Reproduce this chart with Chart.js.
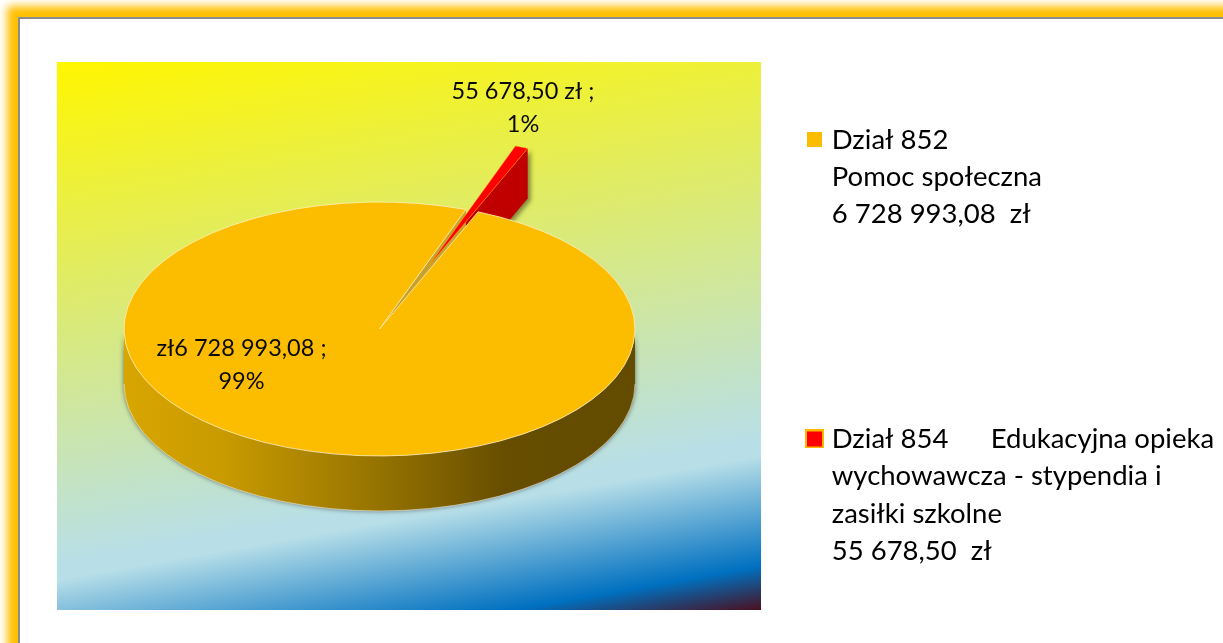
<!DOCTYPE html>
<html><head><meta charset="utf-8">
<style>
html,body{margin:0;padding:0;width:1223px;height:643px;overflow:hidden;background:#fff}
#frame{position:absolute;left:18px;top:17px;width:1400px;height:900px;border:2px solid #8c8c8c;background:#fff;box-shadow:0 0 8px 11px #ffc000;border-radius:1px}
#panel{position:absolute;left:57px;top:62px;width:704px;height:548px;background:linear-gradient(170deg,#fff600 0%,#b8dfe8 75%,#b8dfe8 77%,#0070c0 93.5%,#4a0f1e 100%)}
canvas{position:absolute;left:0;top:0}
</style>
<script src="https://cdn.jsdelivr.net/npm/chart.js@4"></script>
</head><body>
<div id="frame"></div><div id="panel"></div>
<canvas id="c" width="1223" height="643"></canvas>
<script>
const categories = ['Dział 852 Pomoc społeczna', 'Dział 854 Edukacyjna opieka wychowawcza - stypendia i zasiłki szkolne'];
const values = [6728993.08, 55678.50];
const colors = ['#fcbd00', '#ff0000'];
const legendLines = [
  ['Dział 852', 'Pomoc społeczna', '6 728 993,08  zł'],
  ['Dział 854      Edukacyjna opieka', 'wychowawcza - stypendia i', 'zasiłki szkolne', '55 678,50  zł']
];
const dataLabels = [['zł6 728 993,08 ;', '99%'], ['55 678,50 zł ;', '1%']];

const FONT = 'Lato, Carlito, sans-serif';
const view = {cx: 379.5, cy: 329, sy: 0.497, depth: 55, sliceDepth: 50, pull: 137};
const labelAt = [{x: 241.5, y: 348}, {x: 523, y: 91}];

function legendSwatch(fill, edge, inner, border){
  const c = document.createElement('canvas');
  c.width = c.height = inner + 2 * border;
  const x = c.getContext('2d');
  x.fillStyle = edge; x.fillRect(0, 0, c.width, c.height);
  x.fillStyle = fill; x.fillRect(border, border, inner, inner);
  return c;
}
const swatches = [legendSwatch(colors[0], colors[0], 15, 0), legendSwatch(colors[1], '#ffb800', 15, 2)];

function applyView(chart, el){
  const ctx = chart.ctx;
  ctx.translate(view.cx, view.cy);
  ctx.scale(1, view.sy);
  ctx.translate(-el.x, -el.y);
}
const pie3d = {
  id: 'pie3d',
  afterLayout(chart){
    const lg = chart.legend, w = lg.width, p = chart.options.plugins.legend.labels.padding;
    lg.left = 811 - p; lg.right = lg.left + w; lg.top = 126 - p; lg.bottom = lg.top + lg.height;
  },
  afterDatasetsUpdate(chart){
    // pull the small slice out of the pie along its own middle direction
    const [big, small] = chart.getDatasetMeta(0).data;
    const mid = (small.startAngle + small.endAngle) / 2;
    small.x = big.x + Math.cos(mid) * view.pull;
    small.y = big.y + Math.sin(mid) * view.pull;
  },
  beforeDatasetsDraw(chart){
    const [big, small] = chart.getDatasetMeta(0).data;
    const d = view.depth / view.sy, ds = view.sliceDepth / view.sy;
    const ctx = chart.ctx;
    ctx.save();
    applyView(chart, big);
    const {x, y, outerRadius: r} = big;
    // rim of the large slice
    const g = ctx.createLinearGradient(x - r, 0, x + r, 0);
    g.addColorStop(0, '#d8a600'); g.addColorStop(0.2, '#c89a00');
    g.addColorStop(0.5, '#957300'); g.addColorStop(0.75, '#664d00'); g.addColorStop(1, '#634b00');
    ctx.save();
    ctx.shadowColor = 'rgba(60,60,60,0.75)'; ctx.shadowBlur = 5;
    ctx.beginPath();
    ctx.arc(x, y + d, r, 0, Math.PI);
    ctx.arc(x, y, r, Math.PI, 0, true);
    ctx.closePath(); ctx.fillStyle = g; ctx.fill();
    ctx.restore();
    ctx.beginPath(); ctx.arc(x, y + d, r, 0, Math.PI);
    ctx.strokeStyle = 'rgba(255,245,215,.7)'; ctx.lineWidth = 1; ctx.stroke();

    // cut face of the pulled-out slice
    const ox = small.x + Math.cos(small.endAngle) * small.outerRadius;
    const oy = small.y + Math.sin(small.endAngle) * small.outerRadius;
    ctx.save();
    ctx.shadowColor = 'rgba(70,70,30,0.6)'; ctx.shadowBlur = 4; ctx.shadowOffsetX = 3; ctx.shadowOffsetY = 2;
    ctx.beginPath(); ctx.moveTo(small.x, small.y); ctx.lineTo(ox, oy); ctx.lineTo(ox, oy + ds); ctx.lineTo(small.x, small.y + ds); ctx.closePath();
    ctx.fillStyle = '#c00000'; ctx.fill();
    ctx.restore();

    // cut face of the large slice, seen through the gap
    const ex = x + Math.cos(small.startAngle) * r, ey = y + Math.sin(small.startAngle) * r;
    ctx.beginPath(); ctx.moveTo(x, y); ctx.lineTo(ex, ey); ctx.lineTo(ex, ey + d); ctx.lineTo(x, y + d); ctx.closePath();
    ctx.fillStyle = '#c9a02c'; ctx.fill();
    ctx.restore();
    // keep the view transform active while the library draws the arcs
    ctx.save();
    applyView(chart, big);
  },
  afterDatasetsDraw(chart){
    const ctx = chart.ctx;
    ctx.restore();
    ctx.save();
    ctx.font = '23.5px ' + FONT; ctx.fillStyle = '#0a0a0a';
    ctx.textAlign = 'center'; ctx.textBaseline = 'middle';
    dataLabels.forEach((lines, i) => lines.forEach((t, k) => ctx.fillText(t, labelAt[i].x, labelAt[i].y + k * 33)));
    ctx.restore();
  }
};
new Chart(document.getElementById('c'), {
  type: 'pie',
  data: {labels: categories, datasets: [{
    data: values,
    backgroundColor: colors,
    borderColor: ['#fff2c4', '#ffb000'],
    borderWidth: [1, 0.6],
    clip: false
  }]},
  options: {
    responsive: false, animation: false, radius: 255.5, rotation: 22.7,
    plugins: {
      tooltip: {enabled: false},
      legend: {
        position: 'right', align: 'start',
        labels: {
          usePointStyle: true, pointStyleWidth: 7, padding: 37.4, color: '#0a0a0a',
          font: {family: FONT, size: 27.5, lineHeight: 1.36},
          generateLabels: () => legendLines.map((lines, i) => ({
            text: i === 0 ? lines.concat(['', '', '', '']) : lines,
            pointStyle: swatches[i],
            fillStyle: colors[i],
            lineWidth: 0,
            index: i, hidden: false
          }))
        }
      }
    }
  },
  plugins: [pie3d]
});
</script>
</body></html>
